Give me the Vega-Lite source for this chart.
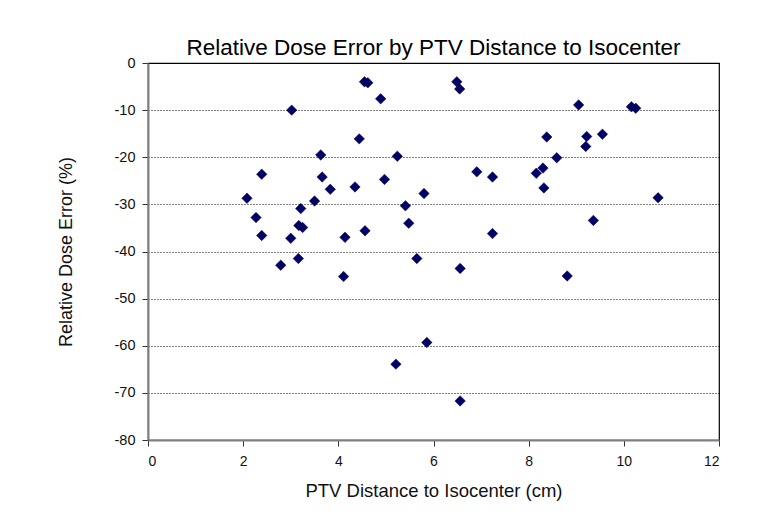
{
  "$schema": "https://vega.github.io/schema/vega-lite/v6.json",
  "autosize": {"type": "none"},
  "width": 571,
  "height": 377,
  "padding": {"left": 148, "top": 63, "right": 43, "bottom": 84},
  "background": "white",
  "title": {
    "text": "Relative Dose Error by PTV Distance to Isocenter",
    "font": "Liberation Sans",
    "fontSize": 22.5,
    "fontWeight": "normal",
    "color": "#000000",
    "anchor": "middle",
    "offset": -4
  },
  "data": {
    "values": [
      {"d": 3.02, "e": -10.0}, {"d": 4.55, "e": -4.0}, {"d": 4.62, "e": -4.2},
      {"d": 4.89, "e": -7.6}, {"d": 4.44, "e": -16.1}, {"d": 3.63, "e": -19.5},
      {"d": 5.24, "e": -19.8}, {"d": 2.39, "e": -23.6}, {"d": 3.66, "e": -24.2},
      {"d": 4.97, "e": -24.7}, {"d": 3.83, "e": -26.8}, {"d": 4.35, "e": -26.3},
      {"d": 5.80, "e": -27.7}, {"d": 2.08, "e": -28.7}, {"d": 5.41, "e": -30.3},
      {"d": 3.21, "e": -30.9}, {"d": 3.50, "e": -29.3}, {"d": 2.27, "e": -32.8},
      {"d": 3.17, "e": -34.5}, {"d": 3.25, "e": -34.9}, {"d": 5.48, "e": -34.0},
      {"d": 4.56, "e": -35.6}, {"d": 2.39, "e": -36.6}, {"d": 3.00, "e": -37.2},
      {"d": 4.14, "e": -37.0}, {"d": 6.49, "e": -4.0}, {"d": 6.55, "e": -5.5},
      {"d": 9.05, "e": -8.9}, {"d": 10.16, "e": -9.3}, {"d": 10.25, "e": -9.6},
      {"d": 8.38, "e": -15.7}, {"d": 9.22, "e": -15.6}, {"d": 9.55, "e": -15.1},
      {"d": 9.20, "e": -17.7}, {"d": 8.59, "e": -20.1}, {"d": 6.91, "e": -23.1},
      {"d": 7.24, "e": -24.2}, {"d": 8.16, "e": -23.4}, {"d": 8.30, "e": -22.3},
      {"d": 8.32, "e": -26.5}, {"d": 10.72, "e": -28.6}, {"d": 9.36, "e": -33.4},
      {"d": 7.24, "e": -36.2}, {"d": 2.79, "e": -42.9}, {"d": 3.16, "e": -41.5},
      {"d": 4.11, "e": -45.3}, {"d": 5.65, "e": -41.5}, {"d": 5.86, "e": -59.3},
      {"d": 5.21, "e": -63.9}, {"d": 6.56, "e": -43.6}, {"d": 8.81, "e": -45.2},
      {"d": 6.56, "e": -71.7}
    ]
  },
  "mark": {"type": "point", "shape": "diamond", "filled": true, "size": 110, "color": "#000066", "opacity": 1, "stroke": "#00003a", "strokeWidth": 0.5},
  "encoding": {
    "x": {
      "field": "d", "type": "quantitative",
      "scale": {"domain": [0, 12], "nice": false, "zero": false},
      "axis": {
        "title": "PTV Distance to Isocenter (cm)",
        "values": [0, 2, 4, 6, 8, 10, 12],
        "labelExpr": "toString(datum.value)",
        "grid": false,
        "titleFontSize": 18.5,
        "titlePadding": 13
      }
    },
    "y": {
      "field": "e", "type": "quantitative",
      "scale": {"domain": [-80, 0], "nice": false, "zero": false},
      "axis": {
        "title": "Relative Dose Error (%)",
        "values": [-80, -70, -60, -50, -40, -30, -20, -10, 0],
        "labelExpr": "toString(datum.value)",
        "labelFontSize": 14.5,
        "labelPadding": 7,
        "grid": true,
        "gridColor": "#000000",
        "gridDash": [1, 2],
        "gridWidth": 1,
        "titlePadding": 39
      }
    }
  },
  "config": {
    "view": {"stroke": "#000000", "strokeWidth": 1.2},
    "axis": {
      "labelFont": "Liberation Sans",
      "labelFontSize": 14,
      "labelColor": "#111111",
      "titleFont": "Liberation Sans",
      "titleFontSize": 18,
      "titleFontWeight": "normal",
      "titleColor": "#111111",
      "domainColor": "#808080",
      "domainWidth": 2,
      "tickColor": "#333333",
      "tickSize": 6,
      "tickWidth": 1,
      "labelPadding": 6
    },
    "axisX": {"labelPadding": 8}
  }
}
